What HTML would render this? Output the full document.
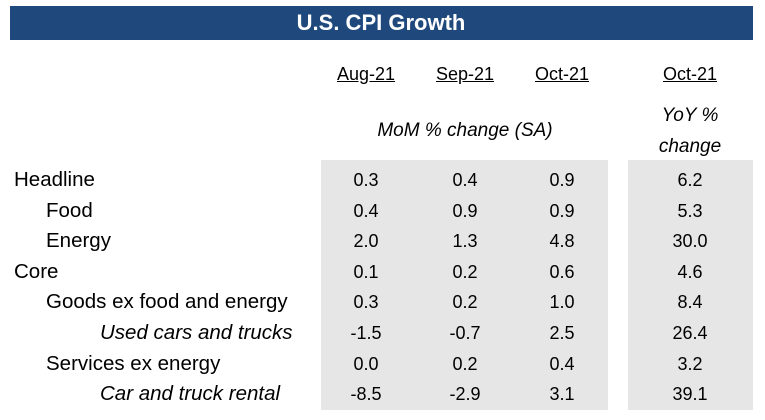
<!DOCTYPE html>
<html><head><meta charset="utf-8"><style>
body{margin:0;width:765px;height:420px;background:#fff;position:relative;overflow:hidden;font-family:"Liberation Sans",Arial,sans-serif;color:#000}
div,span{position:absolute}
.t{font-size:18px;line-height:22px;white-space:nowrap}
.lab{font-size:20.5px;line-height:22px;white-space:nowrap}
.c{transform:translateX(-50%)}
.u{text-decoration:underline}
.i{font-style:italic}
</style></head><body>
<div style="left:10px;top:6px;width:743px;height:34px;background:#1F497D"></div>
<div class="t c" style="left:381px;top:10px;color:#fff;font-weight:bold;font-size:22px;line-height:25px">U.S. CPI Growth</div>
<div style="left:321px;top:160px;width:287px;height:250px;background:#E7E6E6"></div>
<div style="left:628px;top:160px;width:125px;height:250px;background:#E7E6E6"></div>
<div class="t c u" style="left:366px;top:63px">Aug-21</div>
<div class="t c u" style="left:465px;top:63px">Sep-21</div>
<div class="t c u" style="left:562px;top:63px">Oct-21</div>
<div class="t c u" style="left:690px;top:63px">Oct-21</div>
<div class="t c i" style="left:465px;top:120px;font-size:19px">MoM % change (SA)</div>
<div class="t c i" style="left:690px;top:105px;font-size:19px">YoY %</div>
<div class="t c i" style="left:690px;top:136px;font-size:19px">change</div>
<script>
const labels=["Headline","Food","Energy","Core","Goods ex food and energy","Used cars and trucks","Services ex energy","Car and truck rental"];
const indent=[0,1,1,0,1,2,1,2];
const aug=["0.3","0.4","2.0","0.1","0.3","-1.5","0.0","-8.5"];
const sep=["0.4","0.9","1.3","0.2","0.2","-0.7","0.2","-2.9"];
const oct=["0.9","0.9","4.8","0.6","1.0","2.5","0.4","3.1"];
const yoy=["6.2","5.3","30.0","4.6","8.4","26.4","3.2","39.1"];
const body=document.body;
function mk(txt,cls,x,y,name){const d=document.createElement('div');d.className=cls;d.textContent=txt;d.style.left=x+'px';d.style.top=y+'px';


body.appendChild(d);return d;}
labels.forEach((l,i)=>{const y=169+i*30.6;
 const ind=indent[i];
 if(ind==2) mk(l,'lab i',100,y,'row-label');
 else mk(l,'lab',ind?46:14,y,'row-label');
 mk(aug[i],'t c',366,y,'value-aug');
 mk(sep[i],'t c',465,y,'value-sep');
 mk(oct[i],'t c',562,y,'value-oct');
 mk(yoy[i],'t c',690,y,'value-yoy');
});
</script>
</body></html>
